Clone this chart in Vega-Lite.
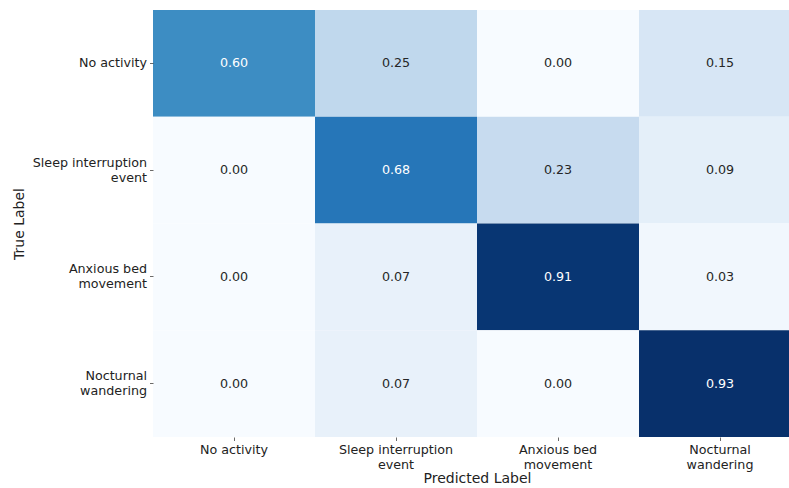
{
  "$schema": "https://vega.github.io/schema/vega-lite/v6.json",
  "autosize": {"type": "none"},
  "padding": {"left": 153, "top": 10, "right": 0, "bottom": 51},
  "width": 636,
  "height": 427,
  "background": "white",
  "config": {"view": {"stroke": null}, "font": "DejaVu Sans"},
  "data": {
    "values": [
      {"true": "No activity", "pred": "No activity", "v": 0.60},
      {"true": "No activity", "pred": "Sleep interruption\nevent", "v": 0.25},
      {"true": "No activity", "pred": "Anxious bed\nmovement", "v": 0.00},
      {"true": "No activity", "pred": "Nocturnal\nwandering", "v": 0.15},
      {"true": "Sleep interruption\nevent", "pred": "No activity", "v": 0.00},
      {"true": "Sleep interruption\nevent", "pred": "Sleep interruption\nevent", "v": 0.68},
      {"true": "Sleep interruption\nevent", "pred": "Anxious bed\nmovement", "v": 0.23},
      {"true": "Sleep interruption\nevent", "pred": "Nocturnal\nwandering", "v": 0.09},
      {"true": "Anxious bed\nmovement", "pred": "No activity", "v": 0.00},
      {"true": "Anxious bed\nmovement", "pred": "Sleep interruption\nevent", "v": 0.07},
      {"true": "Anxious bed\nmovement", "pred": "Anxious bed\nmovement", "v": 0.91},
      {"true": "Anxious bed\nmovement", "pred": "Nocturnal\nwandering", "v": 0.03},
      {"true": "Nocturnal\nwandering", "pred": "No activity", "v": 0.00},
      {"true": "Nocturnal\nwandering", "pred": "Sleep interruption\nevent", "v": 0.07},
      {"true": "Nocturnal\nwandering", "pred": "Anxious bed\nmovement", "v": 0.00},
      {"true": "Nocturnal\nwandering", "pred": "Nocturnal\nwandering", "v": 0.93}
    ]
  },
  "encoding": {
    "x": {
      "field": "pred", "type": "nominal",
      "sort": ["No activity", "Sleep interruption\nevent", "Anxious bed\nmovement", "Nocturnal\nwandering"],
      "scale": {"paddingInner": 0, "paddingOuter": 0, "range": [0, 648]},
      "axis": {
        "title": "Predicted Label", "titleFont": "DejaVu Sans", "titleFontSize": 14, "titleFontWeight": "normal", "titleColor": "#222", "titlePadding": 0,
        "titleAnchor": "middle", "titleX": 324,
        "labelAngle": 0, "labelFontSize": 12.7, "labelColor": "#222", "labelExpr": "split(datum.value, '\\n')", "labelLineHeight": 15, "labelPadding": 3,
        "domain": false, "tickSize": 3.5, "tickColor": "#444", "tickWidth": 0.8
      }
    },
    "y": {
      "field": "true", "type": "nominal",
      "sort": ["No activity", "Sleep interruption\nevent", "Anxious bed\nmovement", "Nocturnal\nwandering"],
      "scale": {"paddingInner": 0, "paddingOuter": 0},
      "axis": {
        "title": "True Label", "titleFont": "DejaVu Sans", "titleFontSize": 14, "titleFontWeight": "normal", "titleColor": "#222", "titlePadding": 6,
        "labelFontSize": 12.7, "labelColor": "#222", "labelExpr": "split(datum.value, '\\n')", "labelLineHeight": 15, "labelPadding": 3, "labelBaseline": "middle",
        "labelOffset": {"condition": {"test": "datum.value == 'No activity'", "value": 0}, "value": -7.5},
        "domain": false, "tickSize": 3.5, "tickColor": "#444", "tickWidth": 0.8
      }
    }
  },
  "layer": [
    {
      "mark": {"type": "rect"},
      "encoding": {
        "color": {
          "field": "v", "type": "quantitative", "legend": null,
          "scale": {
            "domain": [0, 0.11625, 0.2325, 0.34875, 0.465, 0.58125, 0.6975, 0.81375, 0.93],
            "range": ["#f7fbff", "#deebf7", "#c6dbef", "#9ecae1", "#6baed6", "#4292c6", "#2171b5", "#08519c", "#08306b"],
            "interpolate": "rgb"
          }
        }
      }
    },
    {
      "mark": {"type": "text", "font": "DejaVu Sans", "fontSize": 12.7},
      "encoding": {
        "text": {"field": "v", "type": "quantitative", "format": ".2f"},
        "color": {
          "condition": {"test": "datum.v > 0.47", "value": "#ffffff"},
          "value": "#262626"
        }
      }
    }
  ]
}
